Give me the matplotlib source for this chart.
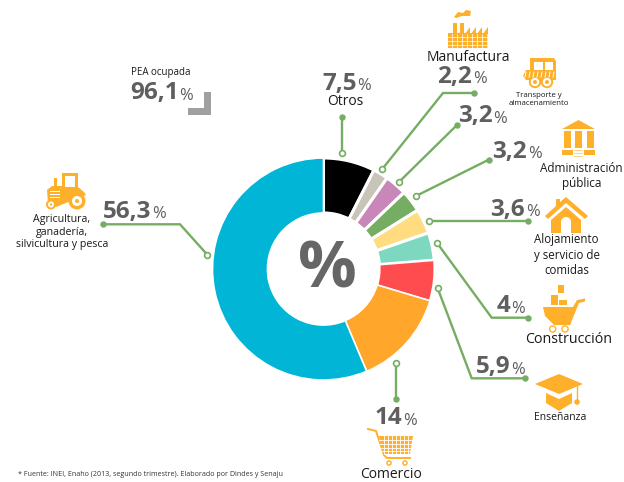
import matplotlib
matplotlib.use('Agg')
import matplotlib.pyplot as plt
from matplotlib.patches import Rectangle, Polygon, Circle

plt.rcParams['font.family'] = ['Open Sans', 'DejaVu Sans']

# data, clockwise from the top
sectors = ['Otros', 'Manufactura', 'Transporte y almacenamiento',
           'Administración pública', 'Alojamiento y servicio de comidas',
           'Construcción', 'Enseñanza', 'Comercio',
           'Agricultura, ganadería, silvicultura y pesca']
shares = [7.5, 2.2, 3.2, 3.2, 3.6, 4, 5.9, 14, 56.3]
share_labels = ['7,5', '2,2', '3,2', '3,2', '3,6', '4', '5,9', '14', '56,3']
colors = ['#000000', '#c8c5b8', '#c986b8', '#75ae62', '#ffdc80',
          '#7dd8bf', '#ff4d4f', '#ffa62b', '#00b5d5']
edge_widths = [2.2, 2.2, 2.2, 2.2, 2.2, 2.2, 1.5, 1.0, 1.2]
total_label = '96,1'

GREY = '#5f5f5f'
GREEN = '#75ad62'
ORANGE = '#ffb02b'

W, H = 624, 482
fig = plt.figure(figsize=(W / 100, H / 100), dpi=100)

# donut in its own axes
cx, cy, r = 323.5, 269, 111
pie_ax = fig.add_axes([(cx - r) / W, 1 - (cy + r) / H, 2 * r / W, 2 * r / H])
wedges, _ = pie_ax.pie(shares, colors=colors, startangle=90, counterclock=False,
                       radius=1, wedgeprops=dict(width=0.495, edgecolor='white'))
for w, lw in zip(wedges, edge_widths):
    w.set_linewidth(lw)
pie_ax.set_xlim(-1, 1)
pie_ax.set_ylim(-1, 1)

# overlay in picture pixels
ax = fig.add_axes([0, 0, 1, 1], zorder=5)
ax.set_xlim(0, W)
ax.set_ylim(H, 0)
ax.axis('off')
ax.patch.set_alpha(0)


def percent(x, y, label, size=17.5):
    t = ax.text(x, y, label, fontsize=size, fontweight='bold', color=GREY, va='baseline')
    ax.annotate('%', xy=(1, 0), xycoords=t, xytext=(0.4, 4), textcoords='offset points',
                fontsize=size * 0.68, color=GREY, va='baseline')


def caption(x, y, s, size):
    ax.text(x, y, s, fontsize=size, color='#1a1a1a', ha='center', va='center',
            linespacing=1.2)


def leader(path):
    xs = [p[0] for p in path]
    ys = [p[1] for p in path]
    ax.plot(xs, ys, color=GREEN, lw=1.7, solid_capstyle='round', solid_joinstyle='miter')
    ax.plot(xs[0], ys[0], 'o', color=GREEN, ms=3.6)
    ax.plot(xs[-1], ys[-1], 'o', mfc='white', mec=GREEN, mew=1.2, ms=4.2)


def rect(x, y, w, h, c=ORANGE):
    ax.add_patch(Rectangle((x, y), w, h, fc=c, ec='none'))


def poly(pts, c=ORANGE):
    ax.add_patch(Polygon(pts, closed=True, fc=c, ec='none'))


def circ(x, y, rad, c=ORANGE):
    ax.add_patch(Circle((x, y), rad, fc=c, ec='none'))


def factory():
    poly([(454, 17), (458, 12), (463, 13), (466, 10), (471, 11), (470, 16), (462, 16), (456, 18)])
    rect(453, 23, 3.5, 11)
    rect(460, 23, 3.5, 11)
    for x in [465, 471, 477, 483]:
        poly([(x, 34), (x + 5, 27), (x + 5, 34)])
    rect(448, 33, 40, 15)
    for y in [37, 41, 44.5]:
        ax.plot([448, 488], [y, y], color='white', lw=0.5)
    for x in range(452, 488, 5):
        ax.plot([x, x], [34, 48], color='white', lw=0.5)


def truck():
    poly([(530, 58), (554, 58), (556, 61), (556, 80), (526, 80), (523, 76), (526, 70), (530, 70)])
    rect(534, 62, 9, 8, 'white')
    rect(545, 62, 8, 8, 'white')
    for x in range(526, 556, 4):
        ax.plot([x, x - 1], [72, 77], color='white', lw=0.7)
    for x in [535, 547]:
        circ(x, 82, 6.2)
        circ(x, 82, 4.2, 'white')
        circ(x, 82, 2)


def temple():
    poly([(578.5, 120), (595, 129), (562, 129)])
    for x in [564, 575, 587]:
        rect(x, 131, 7, 17)
    rect(562, 150, 11, 4.5)
    rect(584, 150, 11, 4.5)
    for y in [150, 153, 156]:
        rect(574, y, 9, 1.3, '#ffd78a')


def house():
    poly([(566, 197), (588, 216), (585, 219), (566, 203), (548, 219), (545, 216), (556, 206),
          (556, 199), (560, 199), (560, 202)])
    poly([(566, 207), (581, 220), (581, 233), (551, 233), (551, 220)])
    rect(561, 222, 10, 11, 'white')
    circ(566, 222, 5, 'white')


def barrow():
    rect(558, 285, 6, 8)
    rect(551, 295, 7, 10)
    rect(558.7, 300, 8, 5)
    poly([(543, 307), (573, 307), (577, 300), (585, 298.5), (585, 301.5), (579, 303), (570, 325),
          (554, 325), (545, 316)])
    for x in [552.7, 565]:
        circ(x, 329, 3.8)
        circ(x, 329, 2.4, 'white')


def mortarboard():
    poly([(559, 374), (583, 384), (559, 394), (535, 384)])
    poly([(546, 393), (559, 399), (572, 393), (572, 403), (559, 411), (546, 403)])
    ax.plot([577, 577], [386, 400], color=ORANGE, lw=1)
    circ(577, 402, 2.8)


def cart():
    ax.plot([368, 376, 384, 387, 410], [429, 431, 455, 458, 458], color=ORANGE, lw=1.4)
    poly([(379, 436), (413, 436), (410, 454), (384, 454)])
    for x in range(384, 412, 4):
        ax.plot([x, x], [436, 454], color='white', lw=0.6)
    for y in [440, 444, 448, 451]:
        ax.plot([379, 413], [y, y], color='white', lw=0.6)
    for x in [389, 405]:
        circ(x, 463, 2.8)
        circ(x, 463, 1.3, 'white')


def tractor():
    poly([(62, 173), (78, 173), (78, 187), (84, 192), (86, 195), (76, 199), (56, 207), (48, 203),
          (47, 190), (52, 186), (62, 186)])
    rect(65, 176, 10, 11, 'white')
    rect(54, 178, 3, 8)
    rect(50, 191, 10, 1, 'white')
    rect(50, 194, 10, 1, 'white')
    rect(50, 197, 10, 1, 'white')
    circ(77, 201, 8.5)
    circ(77, 201, 5, 'white')
    circ(77, 201, 2)
    circ(51, 204.5, 5)
    circ(51, 204.5, 3, 'white')
    circ(51, 204.5, 1.2)


percent(322.5, 90, share_labels[0])
percent(437.5, 82.7, share_labels[1])
percent(458, 122.3, share_labels[2])
percent(492.5, 158, share_labels[3])
percent(490.5, 216, share_labels[4])
percent(496.5, 312.3, share_labels[5])
percent(476, 373.3, share_labels[6])
percent(375, 424.3, share_labels[7])
percent(103, 218, share_labels[8])
percent(130, 99.3, total_label)

caption(345, 101.5, 'Otros', 10)
caption(468, 57.7, 'Manufactura', 10)
caption(539, 99.5, 'Transporte y\nalmacenamiento', 5.6)
caption(581.5, 175.5, 'Administración\npública', 8.5)
caption(566.7, 255, 'Alojamiento\ny servicio de\ncomidas', 8.3)
caption(569, 339.3, 'Construcción', 10.3)
caption(560, 418, 'Enseñanza', 7.5)
caption(390.7, 475, 'Comercio', 10)
caption(62, 232, 'Agricultura,\nganadería,\nsilvicultura y pesca', 7.7)
caption(160.5, 72.7, 'PEA ocupada', 7)

leader([(341.7, 116.7), (341.7, 152.7)])
leader([(474, 93), (443, 93), (382.3, 169)])
leader([(457, 125), (399.3, 181.7)])
leader([(488.7, 159.7), (416, 196)])
leader([(528, 220.7), (429, 220.7)])
leader([(527.7, 317.7), (491.7, 317.7), (437.3, 243.3)])
leader([(525, 378.3), (471.7, 378.3), (437.7, 288.3)])
leader([(396, 399.3), (396, 363.3)])
leader([(102.7, 224.3), (180, 224.3), (207.3, 254.7)])

# corner mark next to the total
poly([(204, 92), (211, 92), (211, 115), (188, 115), (188, 108), (204, 108)], '#a0a0a0')

ax.text(327, 271.5, '%', fontsize=47, fontweight='bold', color='#666666', ha='center', va='center')
ax.text(17.5, 474, '* Fuente: INEI, Enaho (2013, segundo trimestre). Elaborado por Dindes y Senaju',
        fontsize=5.1, color='#333333', va='center')

factory()
truck()
temple()
house()
barrow()
mortarboard()
cart()
tractor()

fig.savefig('out.png', dpi=100)
